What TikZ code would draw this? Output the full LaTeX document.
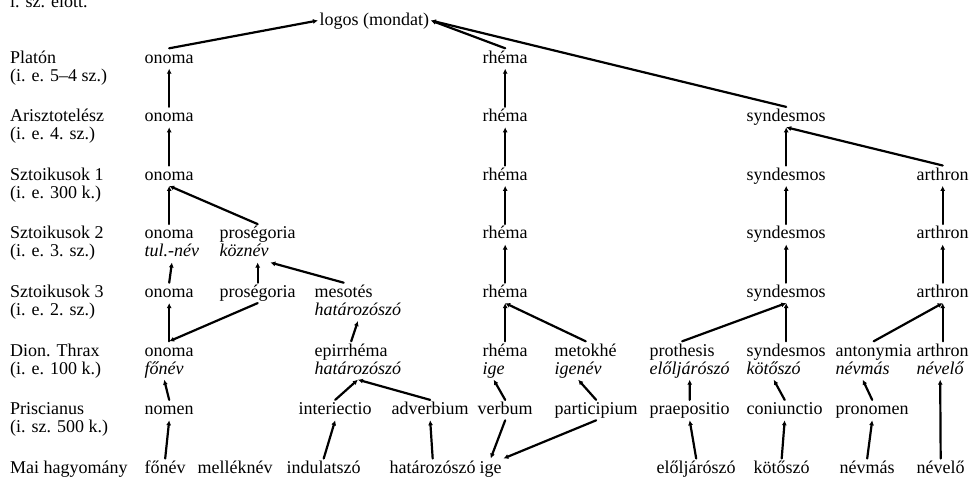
\documentclass[tikz,border=0pt]{standalone}
\usepackage{fontspec}
\setmainfont{Liberation Serif}
\usetikzlibrary{arrows.meta}

\begin{document}
\begin{tikzpicture}[x=1pt,y=-1pt,
  every node/.style={font=\fontsize{18}{20}\selectfont},
  kor/.style={anchor=base west,inner sep=0pt},
  szo/.style={anchor=base west,inner sep=1.5pt,text height=13pt,text depth=4pt},
  dolt/.style={szo,font=\fontsize{18}{20}\selectfont\itshape},
  nyil/.style={line width=2.2pt,line cap=round,-{Latex[length=5pt,width=5pt]}}]

\useasboundingbox (0,0) rectangle (978,479);
\clip (0,0) rectangle (978,479);

% korszakok
\node[kor] (kor) at (10,7.5) {i. sz. előtt.};
\foreach \nev/\ido [count=\i from 0] in {Platón/(i. e. 5–4 sz.),Arisztotelész/(i. e. 4. sz.),Sztoikusok 1/(i. e. 300 k.),Sztoikusok 2/(i. e. 3. sz.),Sztoikusok 3/(i. e. 2. sz.),Dion. Thrax/(i. e. 100 k.),Priscianus/(i. sz. 500 k.)}
{
\node[kor] (kor\i) at (10,{63+58.6*\i}) {\nev};
\node[kor] (ido\i) at (10,{81+58.6*\i}) {\ido};
}
\node[kor] (kor7) at (10,473.2) {Mai hagyomány};

\node[szo] (logos) at (318,25) {logos (mondat)};

% Platon, Arisztotelesz
\node[szo] (pl-onoma) at (143,63) {onoma};
\node[szo] (pl-rhema) at (481,63) {rhéma};
\node[szo] (ar-onoma) at (143,121.6) {onoma};
\node[szo] (ar-rhema) at (481,121.6) {rhéma};
\node[szo] (ar-synd) at (745,121.6) {syndesmos};

% sztoikusok
\node[szo] (s1-onoma) at (143,180.2) {onoma};
\node[szo] (s1-rhema) at (481,180.2) {rhéma};
\node[szo] (s1-synd) at (745,180.2) {syndesmos};
\node[szo] (s1-arth) at (915,180.2) {arthron};

\node[szo] (s2-onoma) at (143,238.8) {onoma};
\node[szo] (s2-pros) at (218,238.8) {proségoria};
\node[szo] (s2-rhema) at (481,238.8) {rhéma};
\node[szo] (s2-synd) at (745,238.8) {syndesmos};
\node[szo] (s2-arth) at (915,238.8) {arthron};
\node[dolt] (s2-onoma2) at (143,256.8) {tul.-név};
\node[dolt] (s2-pros2) at (218,256.8) {köznév};

\node[szo] (s3-onoma) at (143,297.4) {onoma};
\node[szo] (s3-pros) at (218,297.4) {proségoria};
\node[szo] (s3-meso) at (313,297.4) {mesotés};
\node[szo] (s3-rhema) at (481,297.4) {rhéma};
\node[szo] (s3-synd) at (745,297.4) {syndesmos};
\node[szo] (s3-arth) at (915,297.4) {arthron};
\node[dolt] (s3-meso2) at (313,315.4) {határozószó};

% Dion. Thrax
\node[szo] (dt-onoma) at (143,356) {onoma};
\node[szo] (dt-epir) at (313,356) {epirrhéma};
\node[szo] (dt-rhema) at (481,356) {rhéma};
\node[szo] (dt-meto) at (553,356) {metokhé};
\node[szo] (dt-proth) at (648,356) {prothesis};
\node[szo] (dt-synd) at (745,356) {syndesmos};
\node[szo] (dt-anto) at (834,356) {antonymia};
\node[szo] (dt-arth) at (915,356) {arthron};
\node[dolt] (dt-onoma2) at (143,374) {főnév};
\node[dolt] (dt-epir2) at (313,374) {határozószó};
\node[dolt] (dt-rhema2) at (481,374) {ige};
\node[dolt] (dt-meto2) at (553,374) {igenév};
\node[dolt] (dt-proth2) at (648,374) {előljárószó};
\node[dolt] (dt-synd2) at (745,374) {kötőszó};
\node[dolt] (dt-anto2) at (834,374) {névmás};
\node[dolt] (dt-arth2) at (915,374) {névelő};

% Priscianus
\node[szo] (pr-nomen) at (143,414.6) {nomen};
\node[szo] (pr-inter) at (297,414.6) {interiectio};
\node[szo] (pr-adv) at (390,414.6) {adverbium};
\node[szo] (pr-verb) at (476,414.6) {verbum};
\node[szo] (pr-part) at (553,414.6) {participium};
\node[szo] (pr-praep) at (648,414.6) {praepositio};
\node[szo] (pr-coni) at (745,414.6) {coniunctio};
\node[szo] (pr-prono) at (834,414.6) {pronomen};

% mai hagyomany
\node[szo] (ma-fonev) at (143,473.2) {főnév};
\node[szo] (ma-mell) at (196,473.2) {melléknév};
\node[szo] (ma-indul) at (285,473.2) {indulatszó};
\node[szo] (ma-hat) at (388,473.2) {határozószó};
\node[szo] (ma-ige) at (478,473.2) {ige};
\node[szo] (ma-elolj) at (655,473.2) {előljárószó};
\node[szo] (ma-koto) at (752,473.2) {kötőszó};
\node[szo] (ma-nevmas) at (838,473.2) {névmás};
\node[szo] (ma-nevelo) at (915,473.2) {névelő};

% logos
\draw[nyil] (pl-onoma.north) -- (logos.west);
\draw[nyil] (pl-rhema.north) -- (logos.east);
\draw[nyil] (ar-synd.north) -- (logos.east);

% onoma ag
\draw[nyil] (ar-onoma.north) -- (pl-onoma.south);
\draw[nyil] (s1-onoma.north) -- (ar-onoma.south);
\draw[nyil] (s2-onoma.north) -- (s1-onoma.south);
\draw[nyil] (s2-pros.north) -- (s1-onoma.south);
\draw[nyil] (s3-onoma.north) -- (s2-onoma2.south);
\draw[nyil] (s3-pros.north) -- (s3-pros.north |- s2-pros2.south);
\draw[nyil] (s3-meso.north) -- (s2-pros2.south east);
\draw[nyil] (dt-onoma.north) -- (s3-onoma.south);
\draw[nyil] (s3-pros.south) -- (dt-onoma.north);
\draw[nyil] (dt-epir.north) -- (s3-meso2.south);

% rhema ag
\foreach \a/\b in {ar/pl,s1/ar,s2/s1,s3/s2,dt/s3}
  \draw[nyil] (\a-rhema.north) -- (\b-rhema.south);
\draw[nyil] (dt-meto.north) -- (s3-rhema.south);

% syndesmos, arthron ag
\foreach \a/\b in {s1/ar,s2/s1,s3/s2,dt/s3}
  \draw[nyil] (\a-synd.north) -- (\b-synd.south);
\foreach \a/\b in {s2/s1,s3/s2,dt/s3}
  \draw[nyil] (\a-arth.north) -- (\b-arth.south);
\draw[nyil] (s1-arth.north) -- (ar-synd.south);
\draw[nyil] (dt-proth.north) -- (s3-synd.south);
\draw[nyil] (dt-anto.north) -- (s3-arth.south);

% Priscianus -> Dion. Thrax
\draw[nyil] (pr-nomen.north) -- (dt-onoma2.south);
\draw[nyil] (pr-inter.north) -- (dt-epir2.south);
\draw[nyil] (pr-adv.north) -- (dt-epir2.south);
\draw[nyil] (pr-verb.north) -- (dt-rhema2.south);
\draw[nyil] (pr-part.north) -- (dt-meto2.south);
\draw[nyil] (pr-praep.north) -- (dt-proth2.south);
\draw[nyil] (pr-coni.north) -- (dt-synd2.south);
\draw[nyil] (pr-prono.north) -- (dt-anto2.south);
\draw[nyil] (ma-nevelo.north) -- (dt-arth2.south);

% mai -> Priscianus
\draw[nyil] (ma-fonev.north) -- (pr-nomen.south);
\draw[nyil] (ma-indul.north) -- (pr-inter.south);
\draw[nyil] (ma-hat.north) -- (pr-adv.south);
\draw[nyil] (pr-verb.south) -- (ma-ige.north);
\draw[nyil] (pr-part.south) -- (ma-ige.north east);
\draw[nyil] (ma-elolj.north) -- (pr-praep.south);
\draw[nyil] (ma-koto.north) -- (pr-coni.south);
\draw[nyil] (ma-nevmas.north) -- (pr-prono.south);
\end{tikzpicture}
\end{document}
